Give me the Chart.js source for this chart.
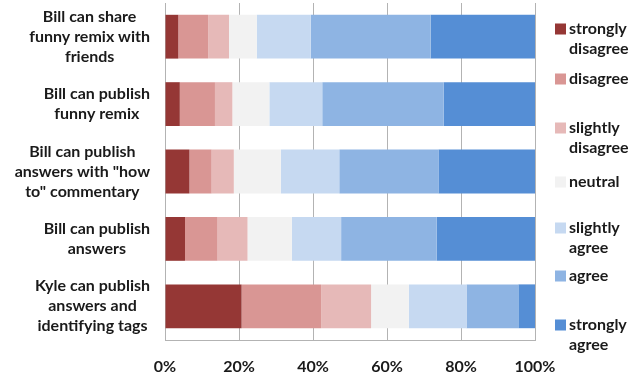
<!DOCTYPE html>
<html>
<head>
<meta charset="utf-8">
<script src="https://cdn.jsdelivr.net/npm/chart.js@4"></script>
<style>
  html, body { margin: 0; padding: 0; background: #ffffff; }
  #wrap { width: 630px; height: 374px; position: relative; }
</style>
</head>
<body>
<div id="wrap"><canvas id="c" width="630" height="374"></canvas></div>
<script>
// Survey statements (each entry is the wrapped label, one string per line)
const categories = [
  ['Bill can share', 'funny remix with', 'friends'],
  ['Bill can publish', 'funny remix'],
  ['Bill can publish', 'answers with "how', 'to" commentary'],
  ['Bill can publish', 'answers'],
  ['Kyle can publish', 'answers and', 'identifying tags']
];

// Response levels, in stacking order
const seriesNames = [
  ['strongly', 'disagree'],
  ['disagree'],
  ['slightly', 'disagree'],
  ['neutral'],
  ['slightly', 'agree'],
  ['agree'],
  ['strongly', 'agree']
];

// Share of responses (%) per statement for each level
const stronglyDisagree = [3.6, 4.0, 6.6, 5.4, 20.7];
const disagree         = [8.1, 9.5, 6.0, 8.8, 21.5];
const slightlyDisagree = [5.6, 4.7, 6.0, 8.1, 13.5];
const neutral          = [7.5, 10.0, 12.7, 12.0, 10.2];
const slightlyAgree    = [14.6, 14.3, 15.8, 13.3, 15.6];
const agree            = [32.4, 32.8, 26.8, 25.8, 14.0];
const stronglyAgree    = [28.2, 24.7, 26.1, 26.6, 4.5];

const xTicks = [0, 20, 40, 60, 80, 100];

const seriesValues = [stronglyDisagree, disagree, slightlyDisagree, neutral,
                      slightlyAgree, agree, stronglyAgree];
const colors = ['#953735', '#d99694', '#e6b9b8', '#f2f2f2', '#c6d9f1', '#8eb4e3', '#558ed5'];

const FONT = 'Lato, "Open Sans", sans-serif';
const TEXT = '#1a1a1a';
const GRID = '#b3b3b3';

// Category labels: each block is right-aligned, lines centred within it
const categoryLabels = {
  id: 'categoryLabels',
  afterDraw(chart) {
    const ctx = chart.ctx;
    const y = chart.scales.y;
    const lineH = 20;
    const right = 150;
    ctx.save();
    ctx.font = 'bold 16px ' + FONT;
    ctx.fillStyle = TEXT;
    ctx.textAlign = 'center';
    ctx.textBaseline = 'middle';
    categories.forEach((lines, i) => {
      const cy = y.getPixelForTick(i);
      const w = Math.max(...lines.map(l => ctx.measureText(l).width));
      const cx = right - w / 2;
      const top = cy - (lines.length - 1) * lineH / 2;
      lines.forEach((l, k) => ctx.fillText(l, cx, top + k * lineH));
    });
    ctx.restore();
  }
};

// Legend on the right, drawn from the dataset colours and labels
const legendRight = {
  id: 'legendRight',
  afterDraw(chart) {
    const ctx = chart.ctx;
    const firstLineY = [29, 79, 128, 182, 228, 276, 325];
    const lineH = 20;
    ctx.save();
    ctx.font = 'bold 16px ' + FONT;
    ctx.textAlign = 'left';
    ctx.textBaseline = 'middle';
    chart.data.datasets.forEach((ds, i) => {
      const y0 = firstLineY[i];
      ctx.fillStyle = ds.backgroundColor;
      ctx.fillRect(555, y0 - 5.5, 11, 11);
      ctx.fillStyle = TEXT;
      seriesNames[i].forEach((l, k) => ctx.fillText(l, 569, y0 + k * lineH));
    });
    ctx.restore();
  }
};

new Chart(document.getElementById('c'), {
  type: 'bar',
  data: {
    labels: categories.map(c => c.join(' ')),
    datasets: seriesValues.map((vals, i) => ({
      label: seriesNames[i].join(' '),
      data: vals,
      backgroundColor: colors[i],
      borderWidth: 0,
      barPercentage: 0.65,
      categoryPercentage: 1.0
    }))
  },
  options: {
    indexAxis: 'y',
    responsive: false,
    animation: false,
    devicePixelRatio: 1,
    layout: { padding: { top: 3, right: 95, left: 0, bottom: 0 } },
    plugins: {
      legend: { display: false },
      tooltip: { enabled: false }
    },
    scales: {
      x: {
        stacked: true,
        min: 0,
        max: 100,
        afterBuildTicks(scale) {
          scale.ticks = xTicks.map(v => ({ value: v }));
        },
        afterFit(scale) { scale.height = 34; },
        grid: { color: GRID, drawTicks: false, lineWidth: 1 },
        border: { display: true, color: GRID, width: 1 },
        ticks: {
          padding: 17,
          maxRotation: 0,
          color: TEXT,
          font: { family: FONT, size: 16, weight: 'bold' },
          callback: v => v + '%'
        }
      },
      y: {
        stacked: true,
        afterFit(scale) { scale.width = 165; },
        grid: { display: false },
        border: { display: true, color: GRID, width: 1 },
        ticks: { display: false }
      }
    }
  },
  plugins: [categoryLabels, legendRight]
});
</script>
</body>
</html>
